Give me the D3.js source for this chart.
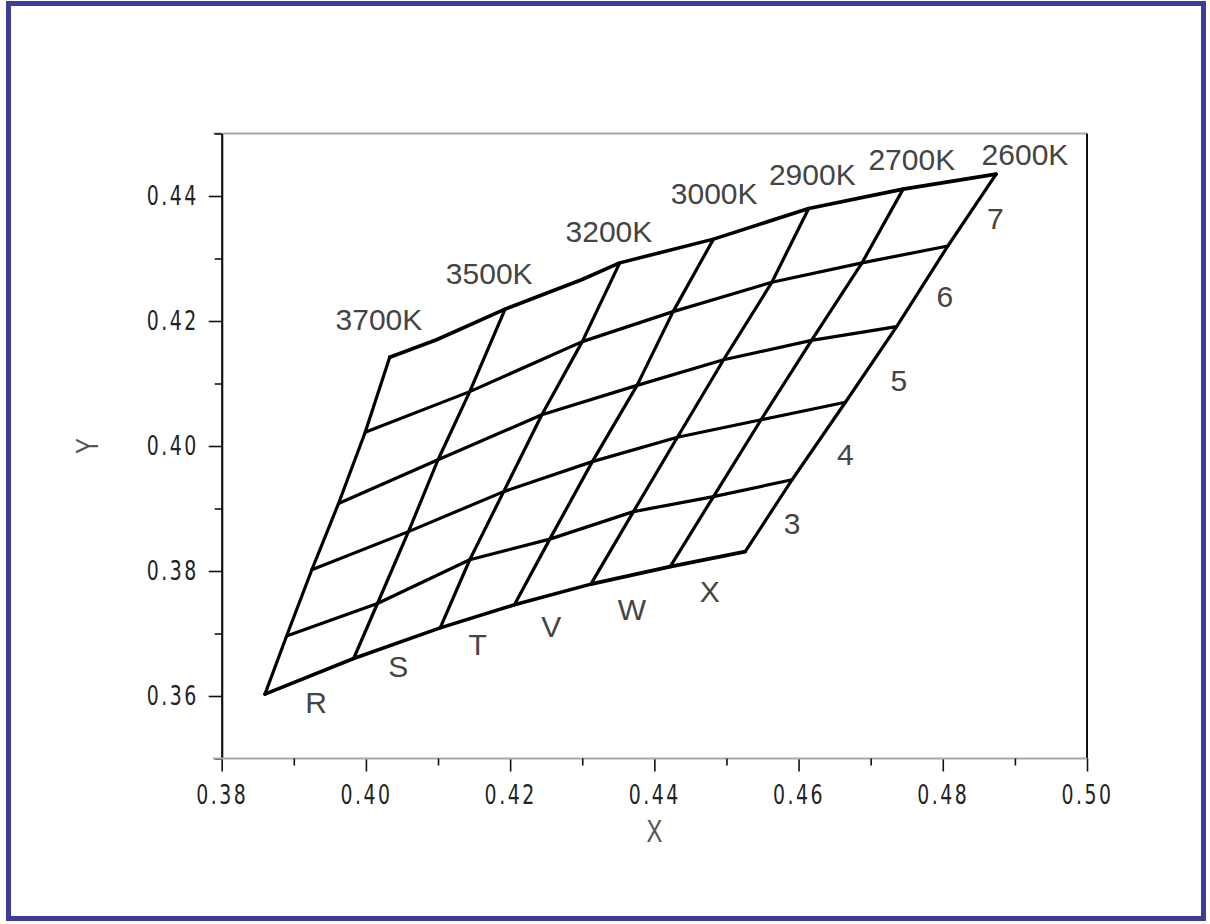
<!DOCTYPE html>
<html>
<head>
<meta charset="utf-8">
<script src="https://cdn.jsdelivr.net/npm/d3@7"></script>
<style>
  html, body { margin: 0; padding: 0; background: #fff; }
  svg { display: block; }
</style>
</head>
<body>
<svg id="chart" width="1210" height="924"></svg>
<script>
// ---------------- data ----------------
const cctLabels = ["3700K", "3500K", "3200K", "3000K", "2900K", "2700K", "2600K"];
const binLabels = ["R", "S", "T", "V", "W", "X"];
const rowLabels = ["3", "4", "5", "6", "7"];
const xTickValues = [0.38, 0.40, 0.42, 0.44, 0.46, 0.48, 0.50];
const yTickValues = [0.36, 0.38, 0.40, 0.42, 0.44];
const xMinorValues = [0.39, 0.41, 0.43, 0.45, 0.47, 0.49];
const yMinorValues = [0.35, 0.37, 0.39, 0.41, 0.43, 0.45];

// grid nodes: one array per CCT line, bottom (row 0) to top (row 5)
const nodeX = [
  [0.3860, 0.3890, 0.3925, 0.3962, 0.3999, 0.4033],
  [0.3983, 0.4016, 0.4059, 0.4100, 0.4144, 0.4193],
  [0.4103, 0.4144, 0.4191, 0.4244, 0.4300, 0.4352],
  [0.4206, 0.4255, 0.4314, 0.4376, 0.4426, 0.4482],
  [0.4312, 0.4371, 0.4432, 0.4496, 0.4563, 0.4614],
  [0.4422, 0.4482, 0.4548, 0.4618, 0.4688, 0.4745],
  [0.4526, 0.4591, 0.4665, 0.4736, 0.4807, 0.4874]
];
const nodeY = [
  [0.3603, 0.3696, 0.3802, 0.3908, 0.4022, 0.4142],
  [0.3660, 0.3748, 0.3863, 0.3978, 0.4087, 0.4219],
  [0.3709, 0.3818, 0.3927, 0.4050, 0.4167, 0.4293],
  [0.3746, 0.3851, 0.3975, 0.4097, 0.4215, 0.4331],
  [0.3779, 0.3895, 0.4014, 0.4138, 0.4262, 0.4380],
  [0.3807, 0.3919, 0.4042, 0.4169, 0.4293, 0.4411],
  [0.3831, 0.3946, 0.4070, 0.4191, 0.4320, 0.4435]
];
// small bends of the top edge between CCT nodes
const topBendX = [0.4098, 0.4299];
const topBendY = [0.4170, 0.4266];

// label anchors (centre x, baseline y) in chart units
const cctLabelX = [0.4018, 0.4171, 0.4337, 0.4483, 0.4619, 0.4757, 0.4914];
const cctLabelY = [0.4186, 0.4260, 0.4326, 0.4388, 0.4417, 0.4442, 0.4450];
const binLabelX = [0.3931, 0.4045, 0.4155, 0.4257, 0.4369, 0.4477];
const binLabelY = [0.3573, 0.3631, 0.3666, 0.3695, 0.3722, 0.3751];
const rowLabelX = [0.4591, 0.4665, 0.4739, 0.4803, 0.4873];
const rowLabelY = [0.3859, 0.3970, 0.4088, 0.4223, 0.4348];

// ---------------- drawing ----------------
const svg = d3.select("#chart");

svg.append("rect")
  .attr("x", 8.5).attr("y", 3.5).attr("width", 1195).attr("height", 915)
  .attr("fill", "#fff").attr("stroke", "#3c3c9c").attr("stroke-width", 5);

const x = d3.scaleLinear().domain([0.38, 0.50]).range([221.7, 1087]);
const y = d3.scaleLinear().domain([0.35, 0.45]).range([758.5, 133.5]);

// frame lines
svg.append("line").attr("x1", 213).attr("x2", x(0.50)).attr("y1", y(0.45)).attr("y2", y(0.45))
  .attr("stroke", "#a8a8a8").attr("stroke-width", 2);
svg.append("line").attr("x1", x(0.50)).attr("x2", x(0.50)).attr("y1", y(0.45)).attr("y2", y(0.35))
  .attr("stroke", "#111").attr("stroke-width", 2);

const tickFont = "'Liberation Sans Narrow', 'DejaVu Sans Condensed', 'Arial Narrow', sans-serif";
const stretch = 1.3;

// y axis
const gy = svg.append("g").attr("transform", `translate(${x(0.38)},0)`);
gy.call(d3.axisLeft(y).tickValues(yTickValues).tickSize(13).tickSizeOuter(0).tickPadding(10)
  .tickFormat(d3.format(".2f")));
const gyMinor = svg.append("g").attr("transform", `translate(${x(0.38)},0)`);
gyMinor.call(d3.axisLeft(y).tickValues(yMinorValues).tickSize(7).tickSizeOuter(0).tickFormat(""));
gyMinor.select(".domain").remove();
gy.select(".domain").attr("stroke", "#111").attr("stroke-width", 2.2);

// x axis
const gx = svg.append("g").attr("transform", `translate(0,${y(0.35)})`);
gx.call(d3.axisBottom(x).tickValues(xTickValues).tickSize(13).tickSizeOuter(0).tickPadding(13)
  .tickFormat(d3.format(".2f")));
const gxMinor = svg.append("g").attr("transform", `translate(0,${y(0.35)})`);
gxMinor.call(d3.axisBottom(x).tickValues(xMinorValues).tickSize(7).tickSizeOuter(0).tickFormat(""));
gxMinor.select(".domain").remove();
gx.select(".domain").remove();
gx.append("line").attr("x1", 213).attr("x2", x(0.50)).attr("y1", 0).attr("y2", 0)
  .attr("stroke", "#a8a8a8").attr("stroke-width", 2);

[gy, gyMinor, gx, gxMinor].forEach(g => {
  g.selectAll(".tick line").attr("stroke", "#111").attr("stroke-width", 1.6);
  g.selectAll(".tick text")
    .attr("fill", "#222")
    .style("font-family", tickFont)
    .style("font-size", "21px")
    .style("letter-spacing", "2.5px");
});
gy.selectAll(".tick text").attr("transform", `scale(1,${stretch})`);
gx.selectAll(".tick text").attr("y", 26 / stretch).attr("transform", `scale(1,${stretch})`);

// axis titles
svg.append("text").attr("transform", `translate(${x(0.44)},842) scale(0.85,1.15)`).attr("text-anchor", "middle")
  .style("font-family", "'Liberation Sans', Arial, sans-serif").style("font-size", "28px").attr("fill", "#555").text("X");
svg.append("text").attr("transform", `translate(98,${y(0.40)}) rotate(-90) scale(0.85,1.15)`).attr("text-anchor", "middle")
  .style("font-family", "'Liberation Sans', Arial, sans-serif").style("font-size", "28px").attr("fill", "#555").text("Y");

// grid
const line = d3.line().x(d => x(d[0])).y(d => y(d[1]));
const grid = svg.append("g").attr("fill", "none").attr("stroke", "#000")
  .attr("stroke-width", 3.2).attr("stroke-linejoin", "round").attr("stroke-linecap", "round");

// CCT lines (columns)
cctLabels.forEach((lab, c) => {
  const pts = nodeX[c].map((vx, r) => [vx, nodeY[c][r]]);
  grid.append("path").attr("d", line(pts));
});
// rows
for (let r = 0; r < 6; r++) {
  let pts = cctLabels.map((lab, c) => [nodeX[c][r], nodeY[c][r]]);
  if (r === 5) {
    topBendX.forEach((bx, i) => pts.push([bx, topBendY[i]]));
    pts.sort((a, b) => a[0] - b[0]);
  }
  grid.append("path").attr("d", line(pts)).attr("stroke-width", r === 5 || r === 0 ? 3.6 : 3.2);
}

// labels
const labFont = "'Liberation Sans', Arial, sans-serif";
function addLabels(texts, xs, ys) {
  svg.append("g").selectAll("text").data(texts).join("text")
    .attr("x", (d, i) => x(xs[i])).attr("y", (d, i) => y(ys[i]))
    .attr("text-anchor", "middle")
    .style("font-family", labFont).style("font-size", "30px")
    .attr("fill", "#444")
    .text(d => d);
}
addLabels(cctLabels, cctLabelX, cctLabelY);
addLabels(binLabels, binLabelX, binLabelY);
addLabels(rowLabels, rowLabelX, rowLabelY);
</script>
</body>
</html>
